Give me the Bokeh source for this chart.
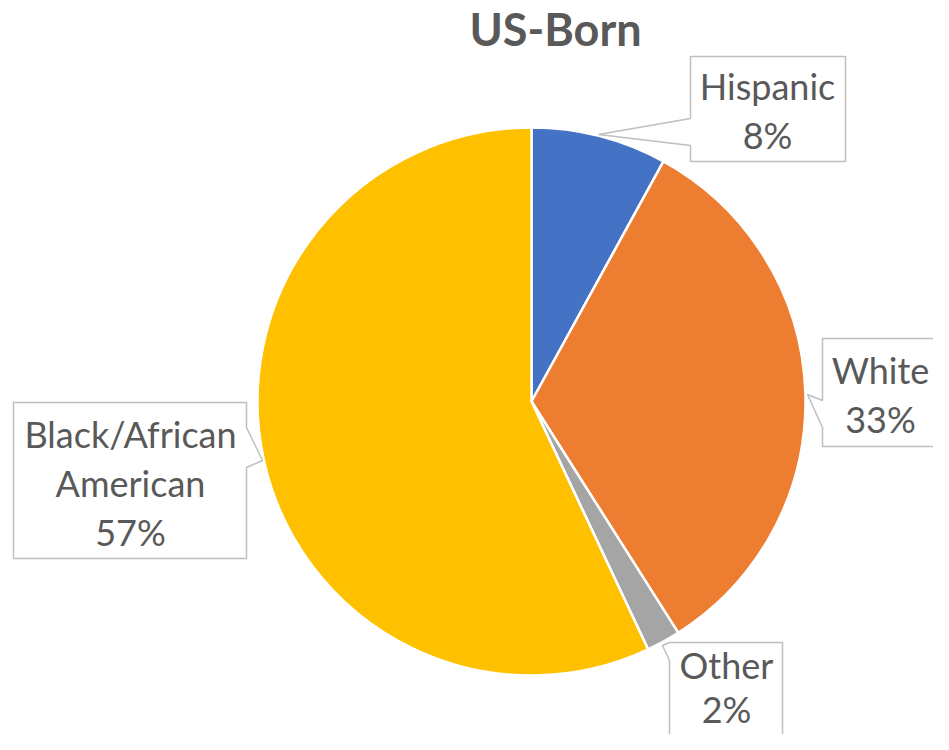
import math
from bokeh.plotting import figure
from bokeh.models import Range1d, ColumnDataSource
from bokeh.core.properties import value
from bokeh.embed import file_html
from bokeh.resources import INLINE

# ---- data ----
title_text = "US-Born"
categories = ["Hispanic", "White", "Other", "Black/African\nAmerican"]
values = [8, 33, 2, 57]
colors = ["#4472C4", "#ED7D31", "#A5A5A5", "#FFC000"]

# ---- layout (reference pixel coordinates; y measured from top) ----
W, H = 933, 734
cx_px, cy_px, r_px = 531, 401, 274

def Y(py):
    return H - py

p = figure(width=W, height=H, output_backend="svg", toolbar_location=None,
           x_range=Range1d(0, W), y_range=Range1d(0, H),
           min_border=0)
p.axis.visible = False
p.grid.visible = False
p.outline_line_color = None
p.background_fill_color = "white"
p.border_fill_color = "white"

# wedges
total = float(sum(values))
starts, ends = [], []
cum = 0.0
for v in values:
    starts.append(math.pi / 2 - 2 * math.pi * cum / total)
    cum += v
    ends.append(math.pi / 2 - 2 * math.pi * cum / total)

src = ColumnDataSource(dict(start=starts, end=ends, color=colors))
p.wedge(x=cx_px, y=Y(cy_px), radius=r_px, start_angle="start", end_angle="end",
        direction="clock", fill_color="color", line_color="white", line_width=2.5,
        source=src)

# callout boxes (pixel polygons)
callouts = [
    [(690, 56), (845, 56), (845, 161), (690, 161), (690, 145), (598, 134), (690, 118)],
    [(822, 338), (938, 338), (938, 446), (822, 446), (822, 427), (807, 394), (822, 400)],
    [(669, 642), (782, 642), (782, 770), (669, 770), (669, 660), (662, 645)],
    [(13, 402), (246, 402), (246, 427), (262, 460), (246, 467), (246, 558), (13, 558)],
]
p.patches(xs=[[q[0] for q in c] for c in callouts],
          ys=[[Y(q[1]) for q in c] for c in callouts],
          fill_color="white", line_color="#BFBFBF", line_width=1.5)

# label texts
label_centers = [(767, 110), (880, 394), (726, 686), (130, 482)]
line_hs = [49, 49, 44, 49]
tx, ty, tt = [], [], []
for cat, v, (lx, ly), lh in zip(categories, values, label_centers, line_hs):
    lines = cat.split("\n") + [f"{v}%"]
    n = len(lines)
    for i, ln in enumerate(lines):
        tx.append(lx)
        ty.append(Y(ly + (i - (n - 1) / 2) * lh))
        tt.append(ln)
p.text(x=tx, y=ty, text=tt, text_align="center", text_baseline="middle",
       text_font=value("Lato"), text_font_size="36px", text_color="#595959")

# title
p.text(x=[555], y=[Y(28)], text=[title_text], text_align="center", text_baseline="middle",
       text_font=value("Lato"), text_font_size="45px", text_font_style="bold",
       text_color="#595959")

open("out.html", "w").write(file_html(p, INLINE))
